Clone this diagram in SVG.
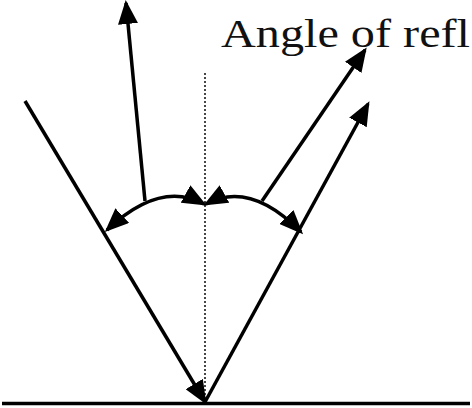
<svg xmlns="http://www.w3.org/2000/svg" width="472" height="408" viewBox="0 0 472 408">
<style>
.ray{stroke:#000;stroke-width:3.5;fill:none;stroke-linecap:butt}
.arc{stroke:#000;stroke-width:3.5;fill:none}
.normal{stroke:#333;stroke-width:1.8;stroke-dasharray:2 2;fill:none}
.ground{stroke:#000;stroke-width:3.5}
.label{font-family:"Liberation Serif","Times New Roman",serif;font-size:40px;fill:#111}
</style>
<defs>
<marker id="ah" markerUnits="userSpaceOnUse" markerWidth="24" markerHeight="20" viewBox="0 0 24 20" refX="21" refY="10" orient="auto-start-reverse">
<path d="M0,0 L24,10 L0,20 z" fill="#000"/>
</marker>
</defs>
<rect width="472" height="408" fill="#fff"/>
<g id="ground"><line class="ground" x1="2" y1="403.5" x2="470" y2="403.5"/></g>
<g id="normal"><line class="normal" x1="205" y1="73" x2="205" y2="402"/></g>
<g id="label"><text class="label" x="221" y="47" textLength="249" lengthAdjust="spacingAndGlyphs">Angle of refl</text></g>
<g id="connectors">
<line class="ray" x1="25" y1="101" x2="205" y2="402" marker-end="url(#ah)"/>
<line class="ray" x1="205" y1="402" x2="368" y2="104" marker-end="url(#ah)"/>
<line class="ray" x1="145" y1="201" x2="126" y2="3" marker-end="url(#ah)"/>
<line class="ray" x1="262" y1="201" x2="365" y2="50" marker-end="url(#ah)"/>
<path class="arc" d="M107,230 Q160,180 204,204" marker-start="url(#ah)" marker-end="url(#ah)"/>
<path class="arc" d="M206,204 Q250,180 301,232" marker-start="url(#ah)" marker-end="url(#ah)"/>
</g>
</svg>
